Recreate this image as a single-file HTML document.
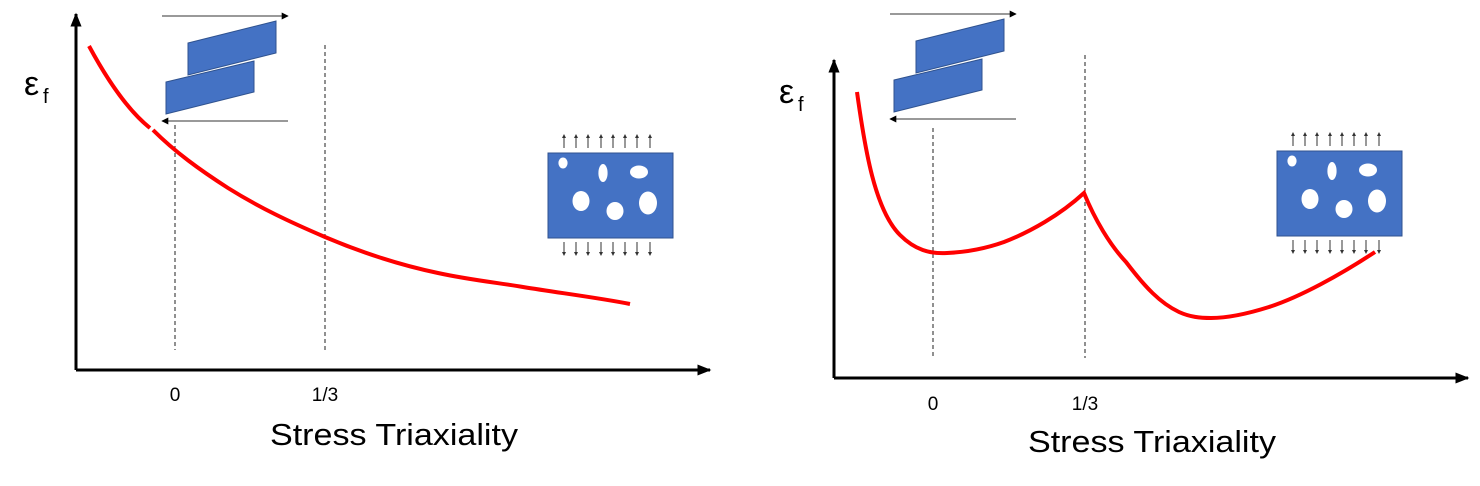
<!DOCTYPE html>
<html><head><meta charset="utf-8"><style>html,body{margin:0;padding:0;background:#fff}svg{display:block}</style></head>
<body>
<svg width="1480" height="486" viewBox="0 0 1480 486" xmlns="http://www.w3.org/2000/svg" font-family="Liberation Sans, sans-serif">
<defs>
<marker id="ah" viewBox="0 0 10 10" refX="9" refY="5" markerWidth="7" markerHeight="7" markerUnits="userSpaceOnUse" orient="auto"><path d="M0,0 L10,5 L0,10 z" fill="#000"/></marker>
<marker id="big" viewBox="0 0 10 10" refX="9" refY="5" markerWidth="14" markerHeight="14" markerUnits="userSpaceOnUse" orient="auto"><path d="M0,1 L10,5 L0,9 z" fill="#000"/></marker>
<g id="shear">
<line x1="162" y1="16" x2="288" y2="16" stroke="#333" stroke-width="1" marker-end="url(#ah)"/>
<line x1="288" y1="121" x2="162" y2="121" stroke="#333" stroke-width="1" marker-end="url(#ah)"/>
<polygon points="188,43 276,21 276,53 188,75" fill="#4472c4" stroke="#2f528f" stroke-width="1"/>
<polygon points="166,82 254,61 254,92 166,114" fill="#4472c4" stroke="#2f528f" stroke-width="1"/>
</g>
<g id="porous">
<rect x="548" y="153" width="125" height="85" fill="#4472c4" stroke="#2f528f" stroke-width="1"/>
<g fill="#fff">
<ellipse cx="563" cy="163" rx="4.6" ry="5.5"/>
<ellipse cx="603" cy="173" rx="4.6" ry="9"/>
<ellipse cx="639" cy="172" rx="9" ry="6.5"/>
<ellipse cx="581" cy="201" rx="8.5" ry="10"/>
<ellipse cx="615" cy="211" rx="8.5" ry="9"/>
<ellipse cx="648" cy="203" rx="9" ry="11.5"/>
</g>
<g stroke="#333" stroke-width="1">
<path d="M564,148V137M576,148V137M588,148V137M601,148V137M613,148V137M625,148V137M637,148V137M650,148V137"/>
<path d="M564,242V253M576,242V253M588,242V253M601,242V253M613,242V253M625,242V253M637,242V253M650,242V253"/>
</g>
<g fill="#333">
<path d="M562,138L564,134L566,138zM574,138L576,134L578,138zM586,138L588,134L590,138zM599,138L601,134L603,138zM611,138L613,134L615,138zM623,138L625,134L627,138zM635,138L637,134L639,138zM648,138L650,134L652,138z"/>
<path d="M562,252L564,256L566,252zM574,252L576,256L578,252zM586,252L588,256L590,252zM599,252L601,256L603,252zM611,252L613,256L615,252zM623,252L625,256L627,252zM635,252L637,256L639,252zM648,252L650,256L652,252z"/>
</g>
</g>
</defs>

<!-- LEFT PANEL -->
<line x1="76" y1="370" x2="76" y2="14" stroke="#000" stroke-width="3" marker-end="url(#big)"/>
<line x1="76" y1="370" x2="710" y2="370" stroke="#000" stroke-width="3" marker-end="url(#big)"/>
<line x1="175" y1="125" x2="175" y2="350" stroke="#222" stroke-width="1" stroke-dasharray="4,3"/>
<line x1="325" y1="45" x2="325" y2="350" stroke="#222" stroke-width="1" stroke-dasharray="4,3"/>
<use href="#shear"/>
<use href="#porous"/>
<path d="M89,46 C110,85 130,112 150,128 M153,130 C175,152 200,170 228,188 C260,208 290,222 325,237 C365,254 400,265 438,273 C470,280 500,283 523,287 C560,293 600,298 630,304" fill="none" stroke="#ff0000" stroke-width="4"/>
<text x="24" y="95" font-size="34">ε</text><text x="43" y="103" font-size="20">f</text>
<text x="175" y="401" font-size="19" text-anchor="middle">0</text>
<text x="325" y="401" font-size="19" text-anchor="middle">1/3</text>
<text x="394" y="445" font-size="31" text-anchor="middle" textLength="248" lengthAdjust="spacingAndGlyphs">Stress Triaxiality</text>

<!-- RIGHT PANEL -->
<line x1="834" y1="378" x2="834" y2="60" stroke="#000" stroke-width="3" marker-end="url(#big)"/>
<line x1="834" y1="378" x2="1468" y2="378" stroke="#000" stroke-width="3" marker-end="url(#big)"/>
<line x1="933" y1="128" x2="933" y2="358" stroke="#222" stroke-width="1" stroke-dasharray="4,3"/>
<line x1="1085" y1="55" x2="1085" y2="358" stroke="#222" stroke-width="1" stroke-dasharray="4,3"/>
<use href="#shear" transform="translate(728,-2)"/>
<use href="#porous" transform="translate(729,-2)"/>
<path d="M857,92 C865,150 875,210 900,235 C915,250 930,254 947,253 C970,252 990,247 1004,242 C1030,232 1060,215 1084,193 C1095,220 1110,245 1126,262 C1145,287 1160,303 1179,312 C1190,317 1200,318 1211,318 C1230,318 1250,313 1269,307 C1300,297 1340,275 1375,252" fill="none" stroke="#ff0000" stroke-width="4" stroke-linejoin="miter"/>
<text x="779" y="103" font-size="34">ε</text><text x="798" y="111" font-size="20">f</text>
<text x="933" y="410" font-size="19" text-anchor="middle">0</text>
<text x="1085" y="410" font-size="19" text-anchor="middle">1/3</text>
<text x="1152" y="452" font-size="31" text-anchor="middle" textLength="248" lengthAdjust="spacingAndGlyphs">Stress Triaxiality</text>
</svg>
</body></html>
